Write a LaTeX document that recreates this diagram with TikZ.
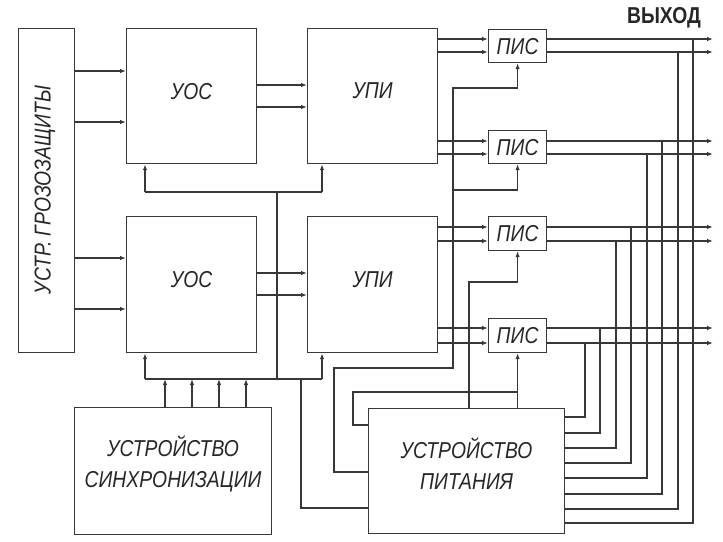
\documentclass[tikz,border=0pt]{standalone}
\usepackage{fontspec}
\setmainfont{Liberation Sans}[FakeStretch=0.84]
\usetikzlibrary{arrows.meta}
\begin{document}
\begin{tikzpicture}[x=1pt,y=-1pt,
  ln/.style={draw=black!78, line width=1.2pt},
  box/.style={ln, rectangle, inner sep=0pt, anchor=north west, fill=white},
  arr/.style={ln, -{Latex[length=6pt,width=4.5pt]}},
  lbl/.style={font=\fontsize{23}{31}\selectfont\itshape, text=black!85, align=center, inner sep=0pt},
]
\useasboundingbox (0,0) rectangle (723,541);
% boxes
\node[box, minimum width=56pt, minimum height=324pt] (grz) at (18,28) {};
\node[box, minimum width=130pt, minimum height=135pt] (uos1) at (126,28) {};
\node[box, minimum width=130pt, minimum height=135pt] (upi1) at (307,28) {};
\node[box, minimum width=130pt, minimum height=136pt] (uos2) at (126,216) {};
\node[box, minimum width=130pt, minimum height=136pt] (upi2) at (307,216) {};
\node[box, minimum width=58pt, minimum height=33pt] (pis1) at (488,29) {};
\node[box, minimum width=58pt, minimum height=33pt] (pis2) at (488,130) {};
\node[box, minimum width=58pt, minimum height=34pt] (pis3) at (488,216) {};
\node[box, minimum width=58pt, minimum height=34pt] (pis4) at (488,318) {};
\node[box, minimum width=197pt, minimum height=127pt] (sync) at (74,407) {};
\node[box, minimum width=196pt, minimum height=125pt] (pwr) at (368,408) {};
% labels
\node[lbl, rotate=90] (tgrz) at (45,190) {УСТР. ГРОЗОЗАЩИТЫ};
\node[lbl] (tuos1) at ([yshift=5pt]uos1.center) {УОС};
\node[lbl] (tupi1) at ([yshift=5pt]upi1.center) {УПИ};
\node[lbl] (tuos2) at ([yshift=5pt]uos2.center) {УОС};
\node[lbl] (tupi2) at ([yshift=5pt]upi2.center) {УПИ};
\foreach \p in {pis1,pis2,pis3,pis4} \node[lbl] (t\p) at (\p.center) {ПИС};
\node[lbl] (tsync) at ([yshift=7pt]sync.center) {УСТРОЙСТВО\\СИНХРОНИЗАЦИИ};
\node[lbl] (tpwr) at ([yshift=7pt]pwr.center) {УСТРОЙСТВО\\ПИТАНИЯ};
\node[font=\fontsize{23}{26}\selectfont\bfseries, text=black!85, inner sep=0pt] (tout) at (664,18) {ВЫХОД};
% inputs to УОС
\foreach \y in {71,122} \draw[arr] (grz.east |- 0,\y) -- (uos1.west |- 0,\y);
\foreach \y in {258,309} \draw[arr] (grz.east |- 0,\y) -- (uos2.west |- 0,\y);
% УОС -> УПИ
\foreach \y in {85,107} \draw[arr] (uos1.east |- 0,\y) -- (upi1.west |- 0,\y);
\foreach \y in {273,295} \draw[arr] (uos2.east |- 0,\y) -- (upi2.west |- 0,\y);
% УПИ -> ПИС
\foreach \p/\ya/\yb in {pis1/39/52, pis2/141/154}
  \foreach \y in {\ya,\yb} \draw[arr] (upi1.east |- 0,\y) -- (\p.west |- 0,\y);
\foreach \p/\ya/\yb in {pis3/227/241, pis4/328/343}
  \foreach \y in {\ya,\yb} \draw[arr] (upi2.east |- 0,\y) -- (\p.west |- 0,\y);
% outputs
\coordinate (outend) at (713,0);
\foreach \p/\ya/\yb in {pis1/39/52, pis2/141/154, pis3/227/241, pis4/328/343}
  \foreach \y in {\ya,\yb} \draw[arr] (\p.east |- 0,\y) -- (outend |- 0,\y);
% feedback of outputs into power supply
\foreach \x/\yo/\yp in {585/343/417, 600/328/433, 616/241/448, 631/227/463,
                        647/154/478, 662/141/494, 678/52/509, 693/39/523}
  \draw[ln] (pwr.east |- 0,\yp) -| (\x,\yo);
% buses
\draw[ln] (145,192) -- (322,192);
\draw[arr] (145,192) -- (uos1.south -| 145,0);
\draw[arr] (322,192) -- (upi1.south -| 322,0);
\draw[ln] (277,192) -- (277,379);
\draw[ln] (145,379) -- (322,379);
\draw[arr] (145,379) -- (uos2.south -| 145,0);
\draw[arr] (322,379) -- (upi2.south -| 322,0);
\foreach \x in {165,192,219,246} \draw[arr] (sync.north -| \x,0) -- (\x,379);
\draw[ln] (301,379) |- (pwr.west |- 0,508);
% power to ПИС
\draw[arr] (pwr.west |- 0,472) -| (334,368) -- (453,368) -- (453,88) -| (pis1.south);
\draw[arr] (453,190) -| (pis2.south);
\draw[arr] (pwr.north -| 469,0) -- (469,282) -| (pis3.south);
\draw[arr] (pwr.north -| pis4.south) -- (pis4.south);
\draw[ln] (pwr.west |- 0,425) -| (353,392) -- (517,392);
\end{tikzpicture}
\end{document}
